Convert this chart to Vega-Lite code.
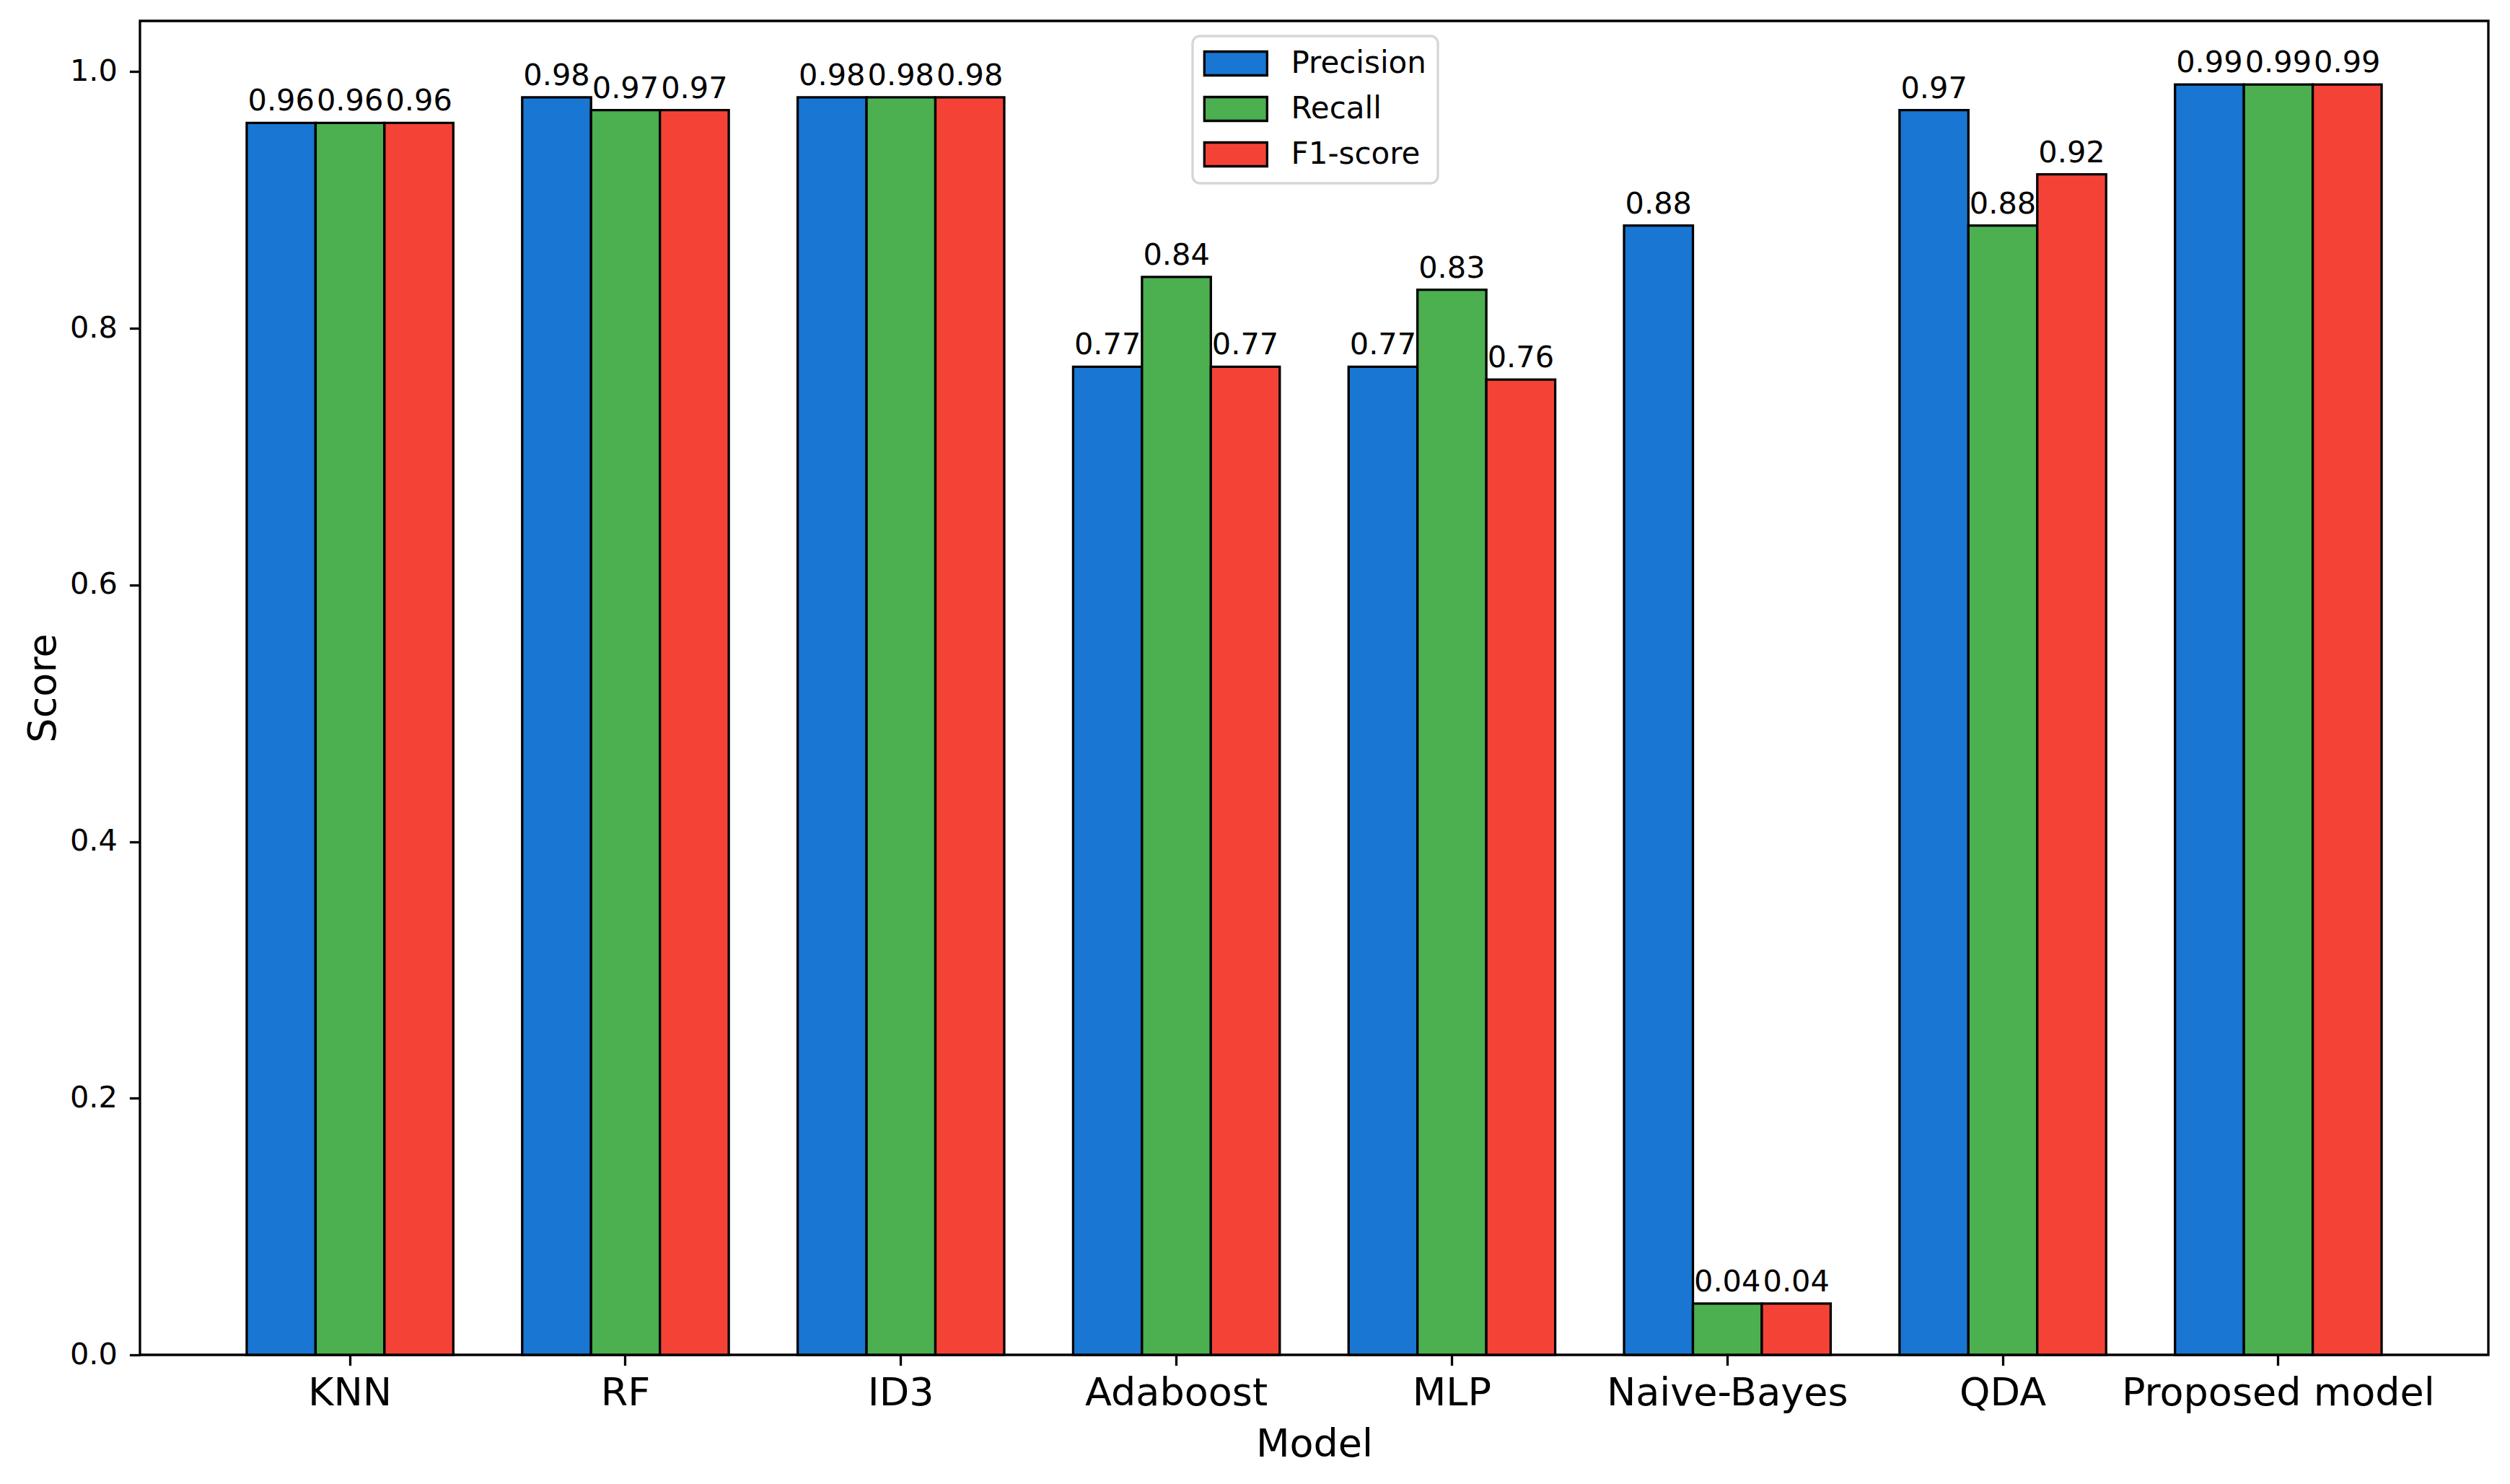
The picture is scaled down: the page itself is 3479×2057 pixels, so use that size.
{
  "$schema": "https://vega.github.io/schema/vega-lite/v6.json",
  "width": 3255,
  "height": 1849,
  "autosize": {"type": "none"},
  "padding": {"left": 194, "top": 29, "right": 30, "bottom": 179},
  "background": "white",
  "config": {
    "view": {"stroke": "black", "strokeWidth": 3.3},
    "font": "DejaVu Sans",
    "axis": {"labelColor": "black", "titleColor": "black", "tickColor": "black", "grid": false, "domain": false, "labelFont": "DejaVu Sans", "titleFont": "DejaVu Sans", "titleFontWeight": "normal", "labelLimit": 0}
  },
  "data": {
    "values": [
      {"model": "KNN", "metric": "Precision", "value": 0.96},
      {"model": "KNN", "metric": "Recall", "value": 0.96},
      {"model": "KNN", "metric": "F1-score", "value": 0.96},
      {"model": "RF", "metric": "Precision", "value": 0.98},
      {"model": "RF", "metric": "Recall", "value": 0.97},
      {"model": "RF", "metric": "F1-score", "value": 0.97},
      {"model": "ID3", "metric": "Precision", "value": 0.98},
      {"model": "ID3", "metric": "Recall", "value": 0.98},
      {"model": "ID3", "metric": "F1-score", "value": 0.98},
      {"model": "Adaboost", "metric": "Precision", "value": 0.77},
      {"model": "Adaboost", "metric": "Recall", "value": 0.84},
      {"model": "Adaboost", "metric": "F1-score", "value": 0.77},
      {"model": "MLP", "metric": "Precision", "value": 0.77},
      {"model": "MLP", "metric": "Recall", "value": 0.83},
      {"model": "MLP", "metric": "F1-score", "value": 0.76},
      {"model": "Naive-Bayes", "metric": "Precision", "value": 0.88},
      {"model": "Naive-Bayes", "metric": "Recall", "value": 0.04},
      {"model": "Naive-Bayes", "metric": "F1-score", "value": 0.04},
      {"model": "QDA", "metric": "Precision", "value": 0.97},
      {"model": "QDA", "metric": "Recall", "value": 0.88},
      {"model": "QDA", "metric": "F1-score", "value": 0.92},
      {"model": "Proposed model", "metric": "Precision", "value": 0.99},
      {"model": "Proposed model", "metric": "Recall", "value": 0.99},
      {"model": "Proposed model", "metric": "F1-score", "value": 0.99}
    ]
  },
  "encoding": {
    "x": {
      "field": "model",
      "type": "nominal",
      "sort": ["KNN", "RF", "ID3", "Adaboost", "MLP", "Naive-Bayes", "QDA", "Proposed model"],
      "scale": {"paddingInner": 0.25, "paddingOuter": 0.3875},
      "title": "Model",
      "axis": {
        "labelAngle": 0,
        "labelFontSize": 54,
        "labelBaseline": "alphabetic",
        "labelPadding": 55,
        "labelLimit": 0,
        "tickSize": 14.6,
        "tickWidth": 3.3,
        "titleFontSize": 54,
        "titleBaseline": "alphabetic",
        "titleY": 140
      }
    },
    "xOffset": {
      "field": "metric",
      "type": "nominal",
      "sort": ["Precision", "Recall", "F1-score"],
      "scale": {"paddingInner": 0, "paddingOuter": 0}
    },
    "y": {
      "field": "value",
      "type": "quantitative",
      "scale": {"domain": [0, 1.0395], "nice": false, "zero": true},
      "title": "Score",
      "axis": {
        "values": [0, 0.2, 0.4, 0.6, 0.8, 1.0],
        "format": ".1f",
        "labelFontSize": 41.5,
        "labelPadding": 17,
        "tickSize": 14.6,
        "tickWidth": 3.3,
        "titleFontSize": 54,
        "titleBaseline": "alphabetic",
        "titleX": -118
      }
    }
  },
  "layer": [
    {
      "mark": {"type": "bar", "stroke": "black", "strokeWidth": 3.3, "opacity": 1},
      "encoding": {
        "color": {
          "field": "metric",
          "type": "nominal",
          "sort": ["Precision", "Recall", "F1-score"],
          "scale": {"domain": ["Precision", "Recall", "F1-score"], "range": ["#1976D2", "#4CAF50", "#F44336"]},
          "legend": {
            "title": null,
            "orient": "none",
            "legendX": 1459,
            "legendY": 21,
            "labelFontSize": 42,
            "labelFont": "DejaVu Sans",
            "labelColor": "black",
            "labelLimit": 0,
            "symbolType": "M-2.175,-0.825h4.35v1.65h-4.35z",
            "symbolSize": 1600,
            "symbolStrokeColor": "black",
            "symbolStrokeWidth": 3.3,
            "symbolOpacity": 1,
            "symbolOffset": 21.8,
            "labelOffset": 54.7,
            "rowPadding": 15,
            "padding": 16,
            "strokeColor": "#d6d6d6",
            "cornerRadius": 10,
            "fillColor": "white",
            "encode": {"legend": {"update": {"strokeWidth": {"value": 3.3}}}}
          }
        }
      }
    },
    {
      "mark": {"type": "text", "baseline": "alphabetic", "dy": -17, "fontSize": 41.5, "font": "DejaVu Sans", "color": "black"},
      "encoding": {
        "text": {"field": "value", "type": "quantitative", "format": ".2f"}
      }
    }
  ]
}
